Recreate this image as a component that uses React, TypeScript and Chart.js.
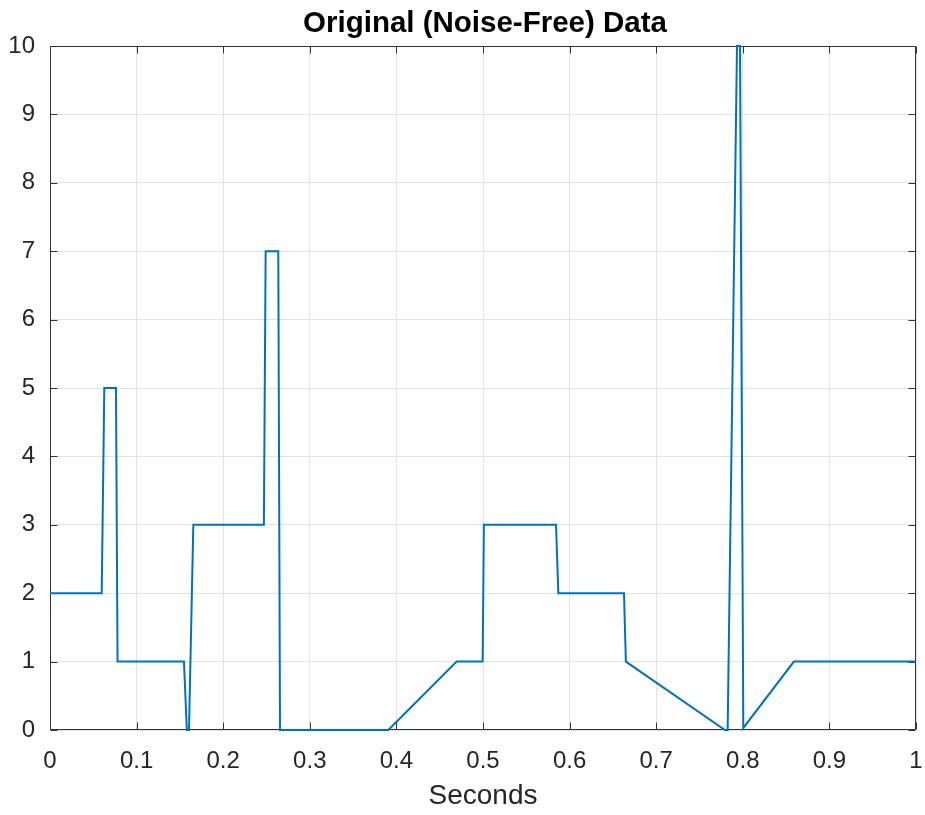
import React, { useEffect, useRef } from "react";
import { Chart, registerables } from "chart.js";

Chart.register(...registerables);

// Signal vertices (seconds, amplitude)
const seconds: number[] = [
  0, 0.0597, 0.0627, 0.0762, 0.078, 0.1547, 0.158, 0.1605, 0.1655, 0.247,
  0.249, 0.2636, 0.2656, 0.3907, 0.4696, 0.4996, 0.501, 0.5843, 0.587, 0.6628,
  0.665, 0.7794, 0.7825, 0.7933, 0.7968, 0.8006, 0.859, 1,
];
const amplitude: number[] = [
  2, 2, 5, 5, 1, 1, 0, 0, 3, 3,
  7, 7, 0, 0, 1, 1, 3, 3, 2, 2,
  1, 0, 0, 10, 10, 0.03, 1, 1,
];

const xTicks: number[] = [0, 0.1, 0.2, 0.3, 0.4, 0.5, 0.6, 0.7, 0.8, 0.9, 1];
const yTicks: number[] = [0, 1, 2, 3, 4, 5, 6, 7, 8, 9, 10];

const titleText = "Original (Noise-Free) Data";
const xLabel = "Seconds";

const FONT = "'Liberation Sans', Arial, Helvetica, sans-serif";
const AXIS_COLOR = "#333333";
const TEXT_COLOR = "#262626";
const GRID_COLOR = "#e3e3e3";
const LINE_COLOR = "#0072BD";

const boxPlugin = {
  id: "matlabBox",
  beforeDatasetsDraw(chart: any) {
    const { ctx, chartArea } = chart;
    const xs = chart.scales.x;
    const ys = chart.scales.y;
    const l = Math.round(chartArea.left) + 0.5;
    const r = Math.round(chartArea.right) - 0.5;
    const t = Math.round(chartArea.top) + 0.5;
    const b = Math.round(chartArea.bottom) - 0.5;
    const tl = 7;
    ctx.save();
    ctx.strokeStyle = AXIS_COLOR;
    ctx.lineWidth = 1;
    ctx.beginPath();
    ctx.rect(l, t, r - l, b - t);
    xTicks.forEach((v) => {
      const px = Math.round(xs.getPixelForValue(v)) + 0.5;
      ctx.moveTo(px, b);
      ctx.lineTo(px, b - tl);
      ctx.moveTo(px, t);
      ctx.lineTo(px, t + tl);
    });
    yTicks.forEach((v) => {
      const py = Math.round(ys.getPixelForValue(v)) + 0.5;
      ctx.moveTo(l, py);
      ctx.lineTo(l + tl, py);
      ctx.moveTo(r, py);
      ctx.lineTo(r - tl, py);
    });
    ctx.stroke();
    ctx.restore();
  },
  afterDraw(chart: any) {
    const { ctx, chartArea } = chart;
    ctx.save();
    ctx.fillStyle = "#000000";
    ctx.font = `bold 29.5px ${FONT}`;
    ctx.textAlign = "center";
    ctx.textBaseline = "alphabetic";
    ctx.fillText(titleText, (chartArea.left + chartArea.right) / 2 + 2, 31.5);
    ctx.restore();
  },
};

export default function App() {
  const canvasRef = useRef<HTMLCanvasElement | null>(null);

  useEffect(() => {
    const canvas = canvasRef.current;
    if (!canvas) return;
    const points = seconds.map((s, i) => ({ x: s, y: amplitude[i] }));
    const chart = new Chart(canvas, {
      type: "line",
      data: {
        datasets: [
          {
            data: points,
            borderColor: LINE_COLOR,
            borderWidth: 2,
            pointRadius: 0,
            tension: 0,
            fill: false,
            clip: false,
          },
        ],
      },
      options: {
        responsive: false,
        devicePixelRatio: 1,
        animation: false,
        layout: { padding: { left: 0, right: 9, top: 46, bottom: 0 } },
        plugins: {
          legend: { display: false },
          tooltip: { enabled: false },
          title: { display: false },
        },
        scales: {
          x: {
            type: "linear",
            min: 0,
            max: 1,
            afterBuildTicks: (scale: any) => {
              scale.ticks = xTicks.map((v) => ({ value: v }));
            },
            afterFit: (scale: any) => {
              scale.height = 85;
              scale.paddingLeft = 0;
              scale.paddingRight = 0;
            },
            ticks: {
              color: TEXT_COLOR,
              font: { family: FONT, size: 24 },
              padding: 17,
              maxRotation: 0,
              autoSkip: false,
              callback: (v: any) => String(Math.round(Number(v) * 10) / 10),
            },
            grid: { color: GRID_COLOR, drawTicks: false, lineWidth: 1 },
            border: { display: false },
            title: {
              display: true,
              text: xLabel,
              color: TEXT_COLOR,
              font: { family: FONT, size: 28 },
              padding: { top: 0, bottom: 1.5 },
            },
          },
          y: {
            type: "linear",
            min: 0,
            max: 10,
            afterBuildTicks: (scale: any) => {
              scale.ticks = yTicks.map((v) => ({ value: v }));
            },
            afterFit: (scale: any) => {
              scale.width = 50;
              scale.paddingTop = 0;
              scale.paddingBottom = 0;
            },
            ticks: {
              color: TEXT_COLOR,
              font: { family: FONT, size: 24 },
              padding: 15,
              autoSkip: false,
              callback: (v: any) => String(v),
            },
            grid: { color: GRID_COLOR, drawTicks: false, lineWidth: 1 },
            border: { display: false },
          },
        },
      },
      plugins: [boxPlugin],
    });
    return () => chart.destroy();
  }, []);

  return (
    <div style={{ position: "fixed", left: 0, top: 0, width: 925, height: 815, background: "#ffffff" }}>
      <canvas ref={canvasRef} width={925} height={815} style={{ display: "block", width: 925, height: 815 }} />
    </div>
  );
}
